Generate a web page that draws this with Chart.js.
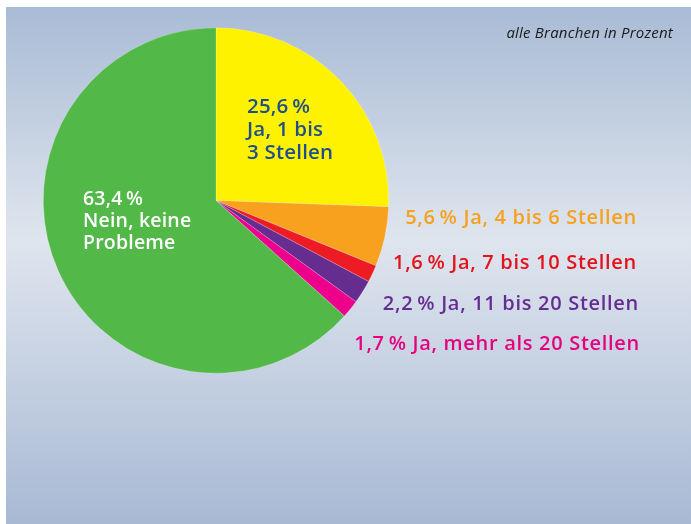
<!DOCTYPE html>
<html>
<head>
<meta charset="utf-8">
<script src="https://cdn.jsdelivr.net/npm/chart.js@4"></script>
<style>
html,body{margin:0;padding:0;background:#fff;}
#wrap{position:relative;width:691px;height:524px;}
</style>
</head>
<body>
<div id="wrap"><canvas id="c" width="691" height="524"></canvas></div>
<script>
const categories = ["Ja, 1 bis 3 Stellen","Ja, 4 bis 6 Stellen","Ja, 7 bis 10 Stellen","Ja, 11 bis 20 Stellen","Ja, mehr als 20 Stellen","Nein, keine Probleme"];
const values = [25.6, 5.6, 1.6, 2.2, 1.7, 63.4];
const sliceColors = ["#fff200","#f7a11e","#ed1c24","#662d91","#ec008c","#52b848"];
const valueTexts = ["25,6\u2009%","5,6\u2009%","1,6\u2009%","2,2\u2009%","1,7\u2009%","63,4\u2009%"];
const subtitle = "alle Branchen in Prozent";

const FONT = "'Open Sans'";

const bgPlugin = {
  id: 'bg',
  beforeDraw(chart) {
    const ctx = chart.ctx;
    ctx.save();
    ctx.fillStyle = '#ffffff';
    ctx.fillRect(0, 0, chart.width, chart.height);
    const g = ctx.createLinearGradient(0, 7, 0, 524);
    g.addColorStop(0, '#a9bbd5');
    g.addColorStop(0.45, '#dfe5ee');
    g.addColorStop(1, '#a8b9d4');
    ctx.fillStyle = g;
    ctx.fillRect(6, 7, chart.width - 6, chart.height - 7);
    ctx.restore();
  }
};

const labelPlugin = {
  id: 'labels',
  afterDraw(chart) {
    const ctx = chart.ctx;
    ctx.save();
    // subtitle
    ctx.font = "italic 15px " + FONT;
    ctx.letterSpacing = '0.2px';
    ctx.fillStyle = '#1a1a1a';
    ctx.textAlign = 'right';
    ctx.textBaseline = 'alphabetic';
    ctx.fillText(subtitle, 673, 38);

    // inner labels
    ctx.textAlign = 'left';
    ctx.font = "600 20.5px " + FONT;
    ctx.letterSpacing = '0.2px';
    ctx.fillStyle = '#1f4e8c';
    const y0 = [valueTexts[0], "Ja, 1 bis", "3 Stellen"];
    y0.forEach((t, i) => ctx.fillText(t, 247, 113 + i * 23));
    ctx.font = "600 19.5px " + FONT;
    ctx.fillStyle = '#ffffff';
    const g0 = [valueTexts[5], "Nein, keine", "Probleme"];
    g0.forEach((t, i) => ctx.fillText(t, 83, 205 + i * 22));

    // outer labels
    ctx.font = "600 20px " + FONT;
    ctx.letterSpacing = '0.7px';
    ctx.textAlign = 'right';
    const outer = [
      {i: 1, y: 224, x: 637, c: '#f7a11e'},
      {i: 2, y: 269, x: 637, c: '#e3121b'},
      {i: 3, y: 310, x: 639, c: '#662d91'},
      {i: 4, y: 350, x: 640, c: '#e6007e'}
    ];
    outer.forEach(o => {
      ctx.fillStyle = o.c;
      ctx.fillText(valueTexts[o.i] + " " + categories[o.i], o.x, o.y);
    });
    ctx.restore();
  }
};

new Chart(document.getElementById('c'), {
  type: 'pie',
  data: {
    labels: categories,
    datasets: [{
      data: values,
      backgroundColor: sliceColors,
      borderWidth: 0.6,
      borderColor: 'rgba(255,255,255,0.35)'
    }]
  },
  options: {
    responsive: false,
    animation: false,
    events: [],
    layout: { padding: { left: 43, right: 302, top: 27, bottom: 150 } },
    plugins: {
      legend: { display: false },
      tooltip: { enabled: false },
      title: { display: false }
    }
  },
  plugins: [bgPlugin, labelPlugin]
});
</script>
</body>
</html>
